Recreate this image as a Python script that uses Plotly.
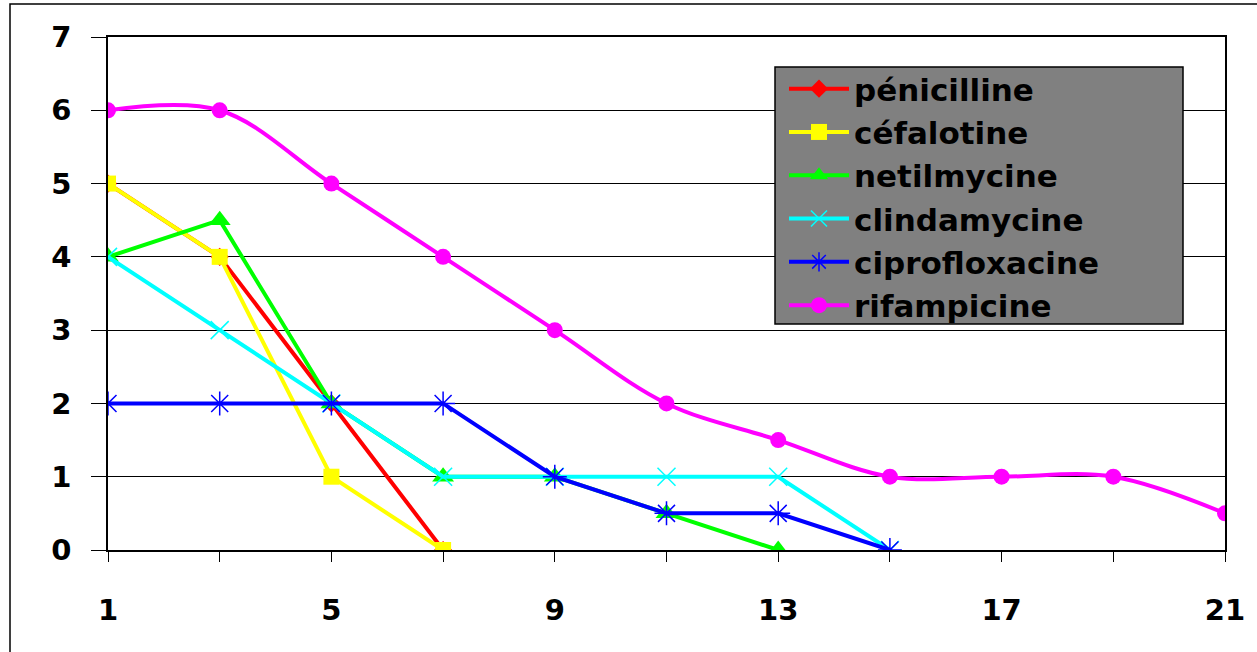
import plotly.graph_objects as go

x_days = [1, 3, 5, 7, 9, 11, 13, 15, 17, 19, 21]

penicilline = [5, 4, 2, 0]
cefalotine = [5, 4, 1, 0]
netilmycine = [4, 4.5, 2, 1, 1, 0.5, 0]
clindamycine = [4, 3, 2, 1, 1, 1, 1, 0]
ciprofloxacine = [2, 2, 2, 2, 1, 0.5, 0.5, 0]
rifampicine = [6, 6, 5, 4, 3, 2, 1.5, 1, 1, 1, 0.5]

names = ["pénicilline", "céfalotine", "netilmycine", "clindamycine", "ciprofloxacine", "rifampicine"]
series = [penicilline, cefalotine, netilmycine, clindamycine, ciprofloxacine, rifampicine]
colors = ["#FF0000", "#FFFF00", "#00FF00", "#00FFFF", "#0000FF", "#FF00FF"]
symbols = ["diamond", "square", "triangle-up", "x-thin-open", "asterisk-open", "circle"]
sizes = [14, 16, 19, 18, 20, 16]

x_ticks = [1, 5, 9, 13, 17, 21]
y_ticks = [0, 1, 2, 3, 4, 5, 6, 7]

FONT = "DejaVu Sans"

# plot area target (px): x 108..1225, y 37..550 (body margin removed via post_script)
L, R, T, B = 108, 1257 - 1225, 37, 652 - 550
PW, PH = 1225 - 108, 550 - 37

fig = go.Figure()
for name, ys, col, sym, sz in zip(names, series, colors, symbols, sizes):
    open_sym = sym.endswith("open")
    fig.add_trace(go.Scatter(
        x=x_days[:len(ys)], y=ys, name=name, mode="lines+markers",
        line=dict(color=col, width=4,
                  shape="spline" if name == "rifampicine" else "linear",
                  smoothing=1.0),
        marker=dict(symbol=sym, size=sz, color=col,
                    line=dict(color=col, width=1.5 if open_sym else 0)),
    ))

# legend box
fig.add_shape(type="rect", xref="paper", yref="paper",
              x0=(775 - 108) / PW, x1=(1183 - 108) / PW,
              y0=(550 - 324) / PH, y1=(550 - 67) / PH,
              fillcolor="#808080", line=dict(color="black", width=1.5), layer="above")
# outer chart border
fig.add_shape(type="rect", xref="paper", yref="paper",
              x0=(10 - 108) / PW, x1=1.2,
              y0=-0.5, y1=(550 - 4) / PH,
              fillcolor="rgba(0,0,0,0)", line=dict(color="black", width=1.5), layer="below")

fig.update_layout(
    width=1257, height=652,
    margin=dict(l=L, r=R, t=T, b=B, autoexpand=False),
    paper_bgcolor="white", plot_bgcolor="white",
    font=dict(family=FONT, color="black"),
    showlegend=True,
    legend=dict(x=(784 - 108) / PW, y=(550 - 62) / PH, xanchor="left", yanchor="top",
                bgcolor="rgba(0,0,0,0)", borderwidth=0,
                font=dict(family=FONT, size=31, color="black", weight="bold"),
                itemwidth=60, tracegroupgap=0),
    xaxis=dict(range=[1, 21], tickmode="array", tickvals=x_ticks,
               ticktext=[str(v) for v in x_ticks], automargin=False,
               showgrid=False, zeroline=False, showline=True, linecolor="black",
               linewidth=1.5, mirror=True, ticks="outside", ticklen=10, tickcolor="black",
               minor=dict(dtick=2, tick0=1, ticks="outside", ticklen=10, tickcolor="black"),
               ticklabelstandoff=23,
               tickfont=dict(family=FONT, size=29, color="black", weight="bold")),
    yaxis=dict(range=[0, 7], tickmode="array", tickvals=y_ticks,
               ticktext=[str(v) for v in y_ticks], automargin=False,
               showgrid=True, gridcolor="black", gridwidth=1,
               zeroline=False, showline=True, linecolor="black", linewidth=1.5,
               mirror=True, ticks="outside", ticklen=15, tickcolor="black",
               ticklabelstandoff=14,
               tickfont=dict(family=FONT, size=29, color="black", weight="bold")),
)

fig.write_html("out.html", config={"displayModeBar": False},
               post_script="document.body.style.margin='0';document.body.style.overflow='hidden';")
